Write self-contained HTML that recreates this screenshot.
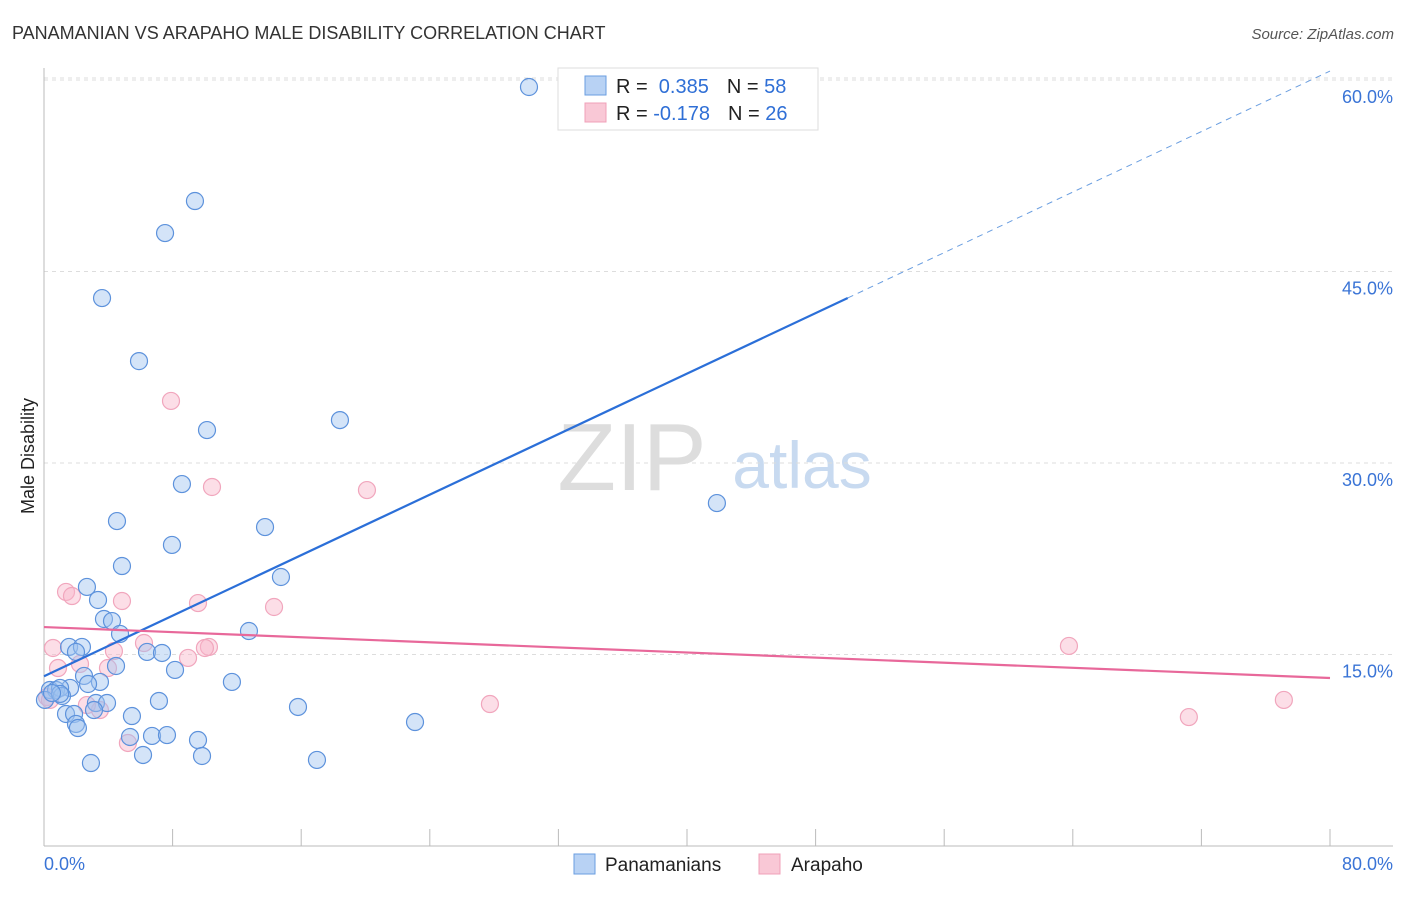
<!DOCTYPE html>
<html><head><meta charset="utf-8"><style>
body{margin:0;background:#fff;font-family:"Liberation Sans",sans-serif;}
svg text{font-family:"Liberation Sans",sans-serif;}
</style></head><body>
<svg width="1406" height="892" xmlns="http://www.w3.org/2000/svg" id="chart">
<text x="12" y="39" font-size="18" fill="#333">PANAMANIAN VS ARAPAHO MALE DISABILITY CORRELATION CHART</text>
<text x="1394" y="39" font-size="15" fill="#555" font-style="italic" text-anchor="end">Source: ZipAtlas.com</text>
<text x="632" y="490" font-size="96" fill="#ddd" font-family="Liberation Serif" text-anchor="middle">ZIP</text>
<text x="802" y="488" font-size="66" fill="#c8daf0" text-anchor="middle">atlas</text>
<g id="grid"></g>
<g id="axes"></g>
<text transform="translate(34,456) rotate(-90)" font-size="18" fill="#222" text-anchor="middle">Male Disability</text>
<g id="marks"></g>
<g>
<rect x="558" y="68" width="260" height="62" fill="#fff" stroke="#ddd"/>
<rect x="585" y="76" width="21" height="19" fill="#b8d2f4" stroke="#6a9ee0"/>
<rect x="585" y="103" width="21" height="19" fill="#f9c8d6" stroke="#f0a0b8"/>
<text x="616" y="93" font-size="20" fill="#222">R = <tspan fill="#2f6fd6">&#160;0.385</tspan><tspan dx="18" fill="#222">N = </tspan><tspan fill="#2f6fd6">58</tspan></text>
<text x="616" y="120" font-size="20" fill="#222">R = <tspan fill="#2f6fd6">-0.178</tspan><tspan dx="18" fill="#222">N = </tspan><tspan fill="#2f6fd6">26</tspan></text>
</g>
<g>
<rect x="574" y="854" width="21" height="20" fill="#b8d2f4" stroke="#6a9ee0"/>
<text x="605" y="871" font-size="19" fill="#222">Panamanians</text>
<rect x="759" y="854" width="21" height="20" fill="#f9c8d6" stroke="#f0a0b8"/>
<text x="791" y="871" font-size="19" fill="#222">Arapaho</text>
</g>
</svg>
<script>
const yTicks=[15,30,45,60];
const yTickLabels=["15.0%","30.0%","45.0%","60.0%"];
const xTickLabels=["0.0%","80.0%"];
const blueX=[30.17,9.39,7.53,3.61,5.91,18.41,10.14,8.58,41.86,4.54,13.75,7.96,4.85,14.74,2.67,3.36,3.73,4.23,4.73,12.75,1.56,2.36,1.99,6.41,7.34,4.48,8.15,2.49,11.69,3.48,2.74,1.62,0.37,0.75,1.0,0.06,1.12,3.23,3.92,7.15,3.11,15.80,1.37,1.87,5.47,1.99,2.11,23.08,5.35,6.72,7.65,9.58,6.16,9.83,2.92,16.98,1.0,0.5];
const blueY=[59.45,50.52,48.01,42.92,37.98,33.36,32.58,28.35,26.86,25.45,24.98,23.58,21.93,21.07,20.29,19.27,17.78,17.62,16.61,16.84,15.59,15.59,15.20,15.20,15.12,14.10,13.79,13.32,12.85,12.85,12.69,12.38,12.22,12.22,12.38,11.44,11.75,11.20,11.20,11.36,10.65,10.89,10.34,10.34,10.18,9.56,9.24,9.71,8.54,8.62,8.69,8.30,7.13,7.05,6.50,6.74,11.91,11.98];
const pinkX=[7.90,10.45,20.09,1.37,1.74,4.85,9.58,14.31,6.22,0.56,10.26,10.01,63.76,4.35,2.24,0.87,3.98,8.96,27.74,71.22,77.13,5.22,3.48,2.67,0.19,0.37];
const pinkY=[34.86,28.12,27.88,19.90,19.58,19.19,19.03,18.72,15.90,15.51,15.59,15.51,15.67,15.27,14.26,13.94,13.94,14.73,11.12,10.10,11.44,8.07,10.65,11.04,11.67,11.44];
const blueTrend=[13.3,60.7];
const pinkTrend=[17.15,13.16];
const X0=44,X1=1330,Y0=846,PPY=12.767;
const sx=v=>X0+(X1-X0)*v/80;
const sy=v=>Y0-v*PPY;
const NS="http://www.w3.org/2000/svg";
function mk(tag,attrs,parent){const e=document.createElementNS(NS,tag);for(const k in attrs)e.setAttribute(k,attrs[k]);parent.appendChild(e);return e;}
const grid=document.getElementById('grid'),axes=document.getElementById('axes'),marks=document.getElementById('marks');
const topLine=mk('line',{x1:44,x2:1393,y1:78,y2:78,stroke:'#ddd','stroke-dasharray':'4,4'},grid);


yTicks.forEach((t,i)=>{
 const l=mk('line',{x1:44,x2:1393,y1:sy(t),y2:sy(t),stroke:'#ddd','stroke-dasharray':'4,4'},grid);
 
 
 const tx=mk('text',{x:1393,y:sy(t)+23,'font-size':18,fill:'#3a74d6','text-anchor':'end'},axes);
 tx.textContent=yTickLabels[i];
 
 
});
const ya=mk('line',{x1:44,x2:44,y1:68,y2:846,stroke:'#bbb'},axes);


const xa=mk('line',{x1:44,x2:1393,y1:846,y2:846,stroke:'#bbb'},axes);


for(let i=0;i<=10;i++){
 const t=mk('line',{x1:sx(i*8),x2:sx(i*8),y1:829,y2:846,stroke:'#bbb'},axes);
 
 
}
[[0,'start',44],[80,'end',1393]].forEach((a,i)=>{
 const tx=mk('text',{x:a[2],y:870,'font-size':18,fill:'#3a74d6','text-anchor':a[1]},axes);
 tx.textContent=xTickLabels[i];
 
 
});
pinkX.forEach((x,i)=>{
 const c=mk('circle',{cx:sx(x),cy:sy(pinkY[i]),r:8.5,fill:'rgba(248,182,202,0.45)',stroke:'#f1a6bd','stroke-width':1.2},marks);
 
 
});
blueX.forEach((x,i)=>{
 const c=mk('circle',{cx:sx(x),cy:sy(blueY[i]),r:8.5,fill:'rgba(160,196,240,0.45)',stroke:'#5d92dc','stroke-width':1.2},marks);
 
 
});
const bAt=x=>blueTrend[0]+(blueTrend[1]-blueTrend[0])*x/80;
const bl=mk('line',{x1:sx(0),y1:sy(bAt(0)),x2:sx(50),y2:sy(bAt(50)),stroke:'#2b6fd8','stroke-width':2.2},marks);


const bd=mk('line',{x1:sx(50),y1:sy(bAt(50)),x2:sx(80),y2:sy(bAt(80)),stroke:'#6a9ee0','stroke-width':1,'stroke-dasharray':'6,5'},marks);


const pl=mk('line',{x1:sx(0),y1:sy(pinkTrend[0]),x2:sx(80),y2:sy(pinkTrend[1]),stroke:'#e8689a','stroke-width':2.2},marks);


</script>
</body></html>
